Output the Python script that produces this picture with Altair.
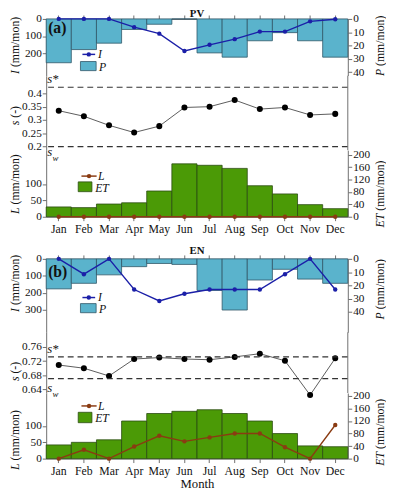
import altair as alt
import pandas as pd

months = ["Jan", "Feb", "Mar", "Apr", "May", "Jun", "Jul", "Aug", "Sep", "Oct", "Nov", "Dec"]

# ---- (a) PV ----
pv_I = [0, 0, 0, 48, 86, 187, 151, 118, 74, 74, 14, 2]
pv_P = [32.9, 23.0, 18.2, 7.9, 4.0, 0.0, 25.5, 28.7, 16.4, 10.3, 16.4, 28.7]
pv_s = [0.335, 0.314, 0.280, 0.253, 0.277, 0.347, 0.350, 0.375, 0.341, 0.347, 0.319, 0.323]
pv_s_lo = [0.255, 0.204, 0.203, 0.240, 0.261, 0.337, 0.335, 0.333, 0.286, 0.292, 0.282, 0.251]
pv_s_hi = [0.414, 0.418, 0.360, 0.270, 0.292, 0.357, 0.360, 0.416, 0.396, 0.396, 0.356, 0.393]
pv_L = [0, 0, 0, 0, 0, 0, 0, 0, 0, 0, 0, 0]
pv_ET = [31.6, 29.4, 41.0, 45.0, 83.0, 170.6, 166.0, 156.0, 100.0, 73.6, 39.0, 26.0]
pv_s_star = 0.423
pv_s_w = 0.2

# ---- (b) EN ----
en_I = [0, 90, 0, 180, 247, 205, 180, 180, 180, 90, 0, 180]
en_P = [22.7, 18.5, 12.1, 5.9, 3.5, 4.2, 23.9, 38.7, 16.0, 7.9, 15.3, 18.5]
en_s = [0.709, 0.700, 0.678, 0.726, 0.730, 0.726, 0.724, 0.732, 0.741, 0.721, 0.624, 0.728]
en_s_lo = [0.684, 0.666, 0.656, 0.721, 0.725, 0.721, 0.719, 0.727, 0.735, 0.716, 0.606, 0.718]
en_s_hi = [0.733, 0.726, 0.698, 0.731, 0.735, 0.731, 0.729, 0.737, 0.747, 0.726, 0.638, 0.746]
en_L = [0, 27, 0, 37, 70, 53, 65, 77, 77, 35, 0, 103]
en_ET = [43.7, 52.0, 60.0, 120.0, 144.0, 151.0, 156.0, 144.0, 120.0, 80.0, 40.6, 38.0]
en_s_star = 0.732
en_s_w = 0.6705

# axis tick values
I_ticks_pv = [0, 100, 200]
I_ticks_en = [0, 100, 200, 300]
P_ticks = [0, 10, 20, 30, 40]
s_ticks_pv = [0.2, 0.25, 0.3, 0.35, 0.4]
s_ticks_en = [0.64, 0.68, 0.72, 0.76]
L_ticks = [0, 50, 100]
ET_ticks = [0, 40, 80, 120, 160, 200]

# ---- styling ----
FONT = "Liberation Serif, Times New Roman, Times, DejaVu Serif, serif"
TXT = "#111111"
AX = "#6e6e6e"
BLUE = "#5ab3cc"
BLUE_EDGE = "#2f5666"
NAVY = "#1b1fa8"
GREEN = "#4b9a06"
GREEN_EDGE = "#2a4a12"
BROWN = "#8a3b12"
BAND = "#d2d2d2"
W = 308
LBL = 11.5
TSZ = 12
LEG = 12

one = pd.DataFrame({"k": [0]})

IT = {"I": 0.333, "P": 0.611, "s": 0.389, "L": 0.556, "E": 0.611, "T": 0.556}
RG = {"(": 0.333, ")": 0.333, "m": 0.778, "/": 0.278, "o": 0.5, "n": 0.5, "-": 0.333, " ": 0.25}


def xenc(axis):
    return alt.X("month:N", sort=months,
                 scale=alt.Scale(domain=months, paddingInner=0, paddingOuter=0),
                 axis=axis)


def top_axis():
    return alt.Axis(orient="top", labels=False, ticks=True, tickSize=4, domain=True,
                    title=None, grid=False)


def bottom_axis(title=None):
    kw = dict(orient="bottom", labelAngle=0, labelFont=FONT, labelFontSize=12,
              labelPadding=3, tickSize=4, grid=False, labelColor=TXT)
    if title:
        kw.update(title=title, titleFont=FONT, titleFontSize=13, titleFontWeight="normal",
                  titlePadding=2, titleColor=TXT)
    else:
        kw.update(title=None)
    return alt.Axis(**kw)


def yaxis(orient, values, fmt=None):
    kw = dict(orient=orient, values=values, title=None, labelFont=FONT, labelFontSize=LBL,
              labelColor=TXT, tickSize=4, labelPadding=1, labelOverlap=False, grid=False,
              labelFlush=False)
    if fmt:
        kw["format"] = fmt
    return alt.Axis(**kw)


def vtitle(var, unit, yc, side):
    wv = sum(IT[c] for c in var) * TSZ
    wu = sum(RG[c] for c in unit) * TSZ
    gap = 0.25 * TSZ
    yb = yc + (wv + gap + wu) / 2
    if side == "left":
        x, base = -25, "bottom"
    else:
        x, base = W + 33, "middle"
    t1 = alt.Chart(one).mark_text(text=var, font=FONT, fontSize=TSZ, fontStyle="italic",
                                  angle=270, align="left", baseline=base, color=TXT).encode(
        x=alt.value(x), y=alt.value(yb))
    t2 = alt.Chart(one).mark_text(text=unit, font=FONT, fontSize=TSZ, angle=270,
                                  align="left", baseline=base, color=TXT).encode(
        x=alt.value(x), y=alt.value(yb - wv - gap))
    return [t1, t2]


def legend_line(x1, x2, y, color, label, lx):
    ln = alt.Chart(one).mark_rule(color=color, strokeWidth=1.5).encode(
        x=alt.value(x1), x2=alt.value(x2), y=alt.value(y))
    pt = alt.Chart(one).mark_point(color=color, filled=True, opacity=1, size=20).encode(
        x=alt.value((x1 + x2) / 2), y=alt.value(y))
    tx = alt.Chart(one).mark_text(text=label, font=FONT, fontSize=LEG, fontStyle="italic",
                                  align="left", baseline="middle", color=TXT).encode(
        x=alt.value(lx), y=alt.value(y))
    return [ln, pt, tx]


def legend_box(x1, x2, y1, y2, fill, edge, label, lx):
    bx = alt.Chart(one).mark_rect(fill=fill, stroke=edge, strokeWidth=0.8).encode(
        x=alt.value(x1), x2=alt.value(x2), y=alt.value(y1), y2=alt.value(y2))
    tx = alt.Chart(one).mark_text(text=label, font=FONT, fontSize=LEG, fontStyle="italic",
                                  align="left", baseline="middle", color=TXT).encode(
        x=alt.value(lx), y=alt.value((y1 + y2) / 2 + 1))
    return [bx, tx]


def text_at(txt, x, y, size, weight="normal", align="left"):
    return alt.Chart(one).mark_text(text=txt, font=FONT, fontSize=size, fontWeight=weight,
                                    align=align, baseline="alphabetic", color=TXT).encode(
        x=alt.value(x), y=alt.value(y))


def ip_panel(I, P, H, Imax, Pmax, Iticks, leg_line_y, leg_box_y, tag, tag_y, head, head_y,
             tI, tP):
    df = pd.DataFrame({"month": months, "idx": list(range(12)), "I": I, "P": P})
    bars = alt.Chart(df).mark_bar(fill=BLUE, stroke=BLUE_EDGE, strokeWidth=0.8).encode(
        x=xenc(top_axis()),
        y=alt.Y("P:Q", scale=alt.Scale(domain=[0, Pmax], reverse=True, nice=False),
                axis=yaxis("right", P_ticks)))
    line = alt.Chart(df).mark_line(
        color=NAVY, strokeWidth=1.4,
        point=alt.OverlayMarkDef(color=NAVY, filled=True, size=20, opacity=1)).encode(
        x=xenc(top_axis()),
        y=alt.Y("I:Q", scale=alt.Scale(domain=[0, Imax], reverse=True, nice=False),
                axis=yaxis("left", Iticks)),
        order="idx:Q")
    layers = [bars, line]
    layers += legend_line(37, 50, leg_line_y, NAVY, "I", 53)
    layers += legend_box(35, 51, leg_box_y[0], leg_box_y[1], BLUE, BLUE_EDGE, "P", 54)
    layers.append(text_at(tag, 2, tag_y, 16, "bold"))
    layers.append(text_at(head, W / 2, head_y, 11, "bold", "center"))
    layers += vtitle("I", "(mm/mon)", tI, "left")
    layers += vtitle("P", "(mm/mon)", tP, "right")
    return alt.layer(*layers).resolve_scale(y="independent").properties(width=W, height=H)


def s_panel(s, lo, hi, H, dom, sticks, s_star, s_w, sw_dy, ts):
    df = pd.DataFrame({"month": months, "idx": list(range(12)), "s": s, "lo": lo, "hi": hi})
    ysc = alt.Scale(domain=dom, nice=False, zero=False)

    def sy(field):
        return alt.Y(field, scale=ysc, axis=yaxis("left", sticks, "~g"))

    band = alt.Chart(df).mark_area(color=BAND, opacity=1).encode(
        x=xenc(None), y=sy("lo:Q"), y2="hi:Q", order="idx:Q")
    line = alt.Chart(df).mark_line(
        color="#5a5a5a", strokeWidth=1,
        point=alt.OverlayMarkDef(color="black", filled=True, size=38, opacity=1)).encode(
        x=xenc(None), y=sy("s:Q"), order="idx:Q")
    lim = pd.DataFrame({"v": [s_star, s_w]})
    rules = alt.Chart(lim).mark_rule(color="#333333", strokeWidth=1.1, strokeDash=[6, 4]).encode(
        y=sy("v:Q"))
    star = alt.Chart(pd.DataFrame({"v": [s_star]})).mark_text(
        text="s*", font=FONT, fontSize=13, fontStyle="italic", align="left",
        baseline="alphabetic", dy=-4, color=TXT).encode(x=alt.value(1), y=sy("v:Q"))
    wl = alt.Chart(pd.DataFrame({"v": [s_w]})).mark_text(
        text="s", font=FONT, fontSize=13, fontStyle="italic", align="left",
        baseline="alphabetic", dy=sw_dy, color=TXT).encode(x=alt.value(1), y=sy("v:Q"))
    wsub = alt.Chart(pd.DataFrame({"v": [s_w]})).mark_text(
        text="w", font=FONT, fontSize=9, fontStyle="italic", align="left",
        baseline="alphabetic", dy=sw_dy + 5, color=TXT).encode(x=alt.value(6.5), y=sy("v:Q"))
    rside = alt.Chart(one).mark_rule(color=AX, strokeWidth=1).encode(
        x=alt.value(W), y=alt.value(0), y2=alt.value(H))
    layers = [band, line, rules, star, wl, wsub, rside] + vtitle("s", "(-)", ts, "left")
    return alt.layer(*layers).properties(width=W, height=H)


def le_panel(L, ET, H, Lmax, ETmax, xtitle, leg_line_y, leg_box_y, tL, tE):
    df = pd.DataFrame({"month": months, "idx": list(range(12)), "L": L, "ET": ET})
    xa = bottom_axis(xtitle)
    bars = alt.Chart(df).mark_bar(fill=GREEN, stroke=GREEN_EDGE, strokeWidth=0.8).encode(
        x=xenc(xa),
        y=alt.Y("ET:Q", scale=alt.Scale(domain=[0, ETmax], nice=False),
                axis=yaxis("right", ET_ticks)))
    line = alt.Chart(df).mark_line(
        color=BROWN, strokeWidth=1.4,
        point=alt.OverlayMarkDef(color=BROWN, filled=True, size=20, opacity=1)).encode(
        x=xenc(xa),
        y=alt.Y("L:Q", scale=alt.Scale(domain=[0, Lmax], nice=False),
                axis=yaxis("left", L_ticks)),
        order="idx:Q")
    layers = [bars, line]
    layers += legend_line(36, 51.5, leg_line_y, BROWN, "L", 53)
    layers += legend_box(32.7, 46.7, leg_box_y[0], leg_box_y[1], GREEN, GREEN_EDGE, "ET", 50)
    layers += vtitle("L", "(mm/mon)", tL, "left")
    layers += vtitle("ET", "(mm/mon)", tE, "right")
    return alt.layer(*layers).resolve_scale(y="independent").properties(width=W, height=H)


a1 = ip_panel(pv_I, pv_P, 57.8, 57.8 / 0.175, 57.8 / 1.36, I_ticks_pv, 36.2, (43.5, 52.8),
              "(a)", 14.5, "PV", -1.5, 27, 27.5)
a2 = s_panel(pv_s, pv_s_lo, pv_s_hi, 76, [0.1868, 0.4662], s_ticks_pv, pv_s_star, pv_s_w,
             10, 40.7)
a3 = le_panel(pv_L, pv_ET, 68, 203.6, 214.8, None, 26.5, (32.4, 42.4), 34.7, 44.7)

spacer = alt.Chart(one).mark_point(opacity=0).encode(
    x=alt.value(0), y=alt.value(0)).properties(width=W, height=42.7)

b1 = ip_panel(en_I, en_P, 75, 75 / 0.174, 75 / 1.35, I_ticks_en, 39.5, (45.7, 55),
              "(b)", 19, "EN", -4.5, 25, 31)
b2 = s_panel(en_s, en_s_lo, en_s_hi, 62, [0.6298, 0.8016], s_ticks_en, en_s_star, en_s_w,
             13.5, 40)
b3 = le_panel(en_L, en_ET, 67, 201, 209.4, "Month", 13.2, (19.7, 30.3), 48, 40)

chart = alt.vconcat(a1, a2, a3, spacer, b1, b2, b3, spacing=0, bounds="flush").properties(
    padding={"left": 0, "top": -5, "right": 0, "bottom": 0}
).configure_view(stroke=None).configure_axis(
    domainColor=AX, tickColor=AX, domainWidth=1, tickWidth=1
)

chart.save("out.html", embed_options={"renderer": "svg", "actions": False})
